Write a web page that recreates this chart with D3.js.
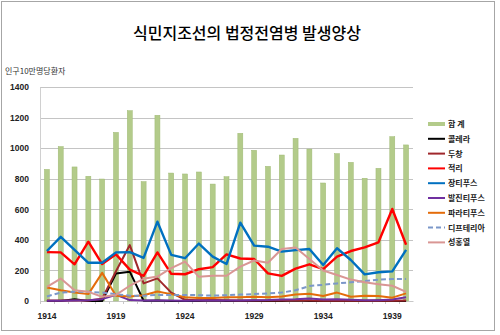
<!DOCTYPE html>
<html>
<head>
<meta charset="utf-8">
<script src="https://cdn.jsdelivr.net/npm/d3@7/dist/d3.min.js"></script>
<style>
  html, body { margin: 0; padding: 0; background: #fff; }
  svg { display: block; }
</style>
</head>
<body>
<svg id="chart" width="500" height="335"></svg>
<script>
// Years on the category axis
const years = [1914,1915,1916,1917,1918,1919,1920,1921,1922,1923,1924,1925,1926,1927,
               1928,1929,1930,1931,1932,1933,1934,1935,1936,1937,1938,1939,1940];
const yearLabels = [1914,1919,1924,1929,1934,1939];
const yTicks = [0,200,400,600,800,1000,1200,1400];

// Patients per 100,000 population
const total      = [861,1010,877,816,798,1103,1245,781,1215,837,831,844,765,813,1097,986,881,955,1064,994,772,964,907,803,868,1075,1021];
const cholera    = [0,0,12,0,0,180,192,2,4,0,0,0,3,0,0,1,0,0,4,0,0,0,0,0,1,0,0];
const smallpox   = [3,3,3,4,15,195,366,115,148,55,8,5,6,5,3,4,3,5,4,3,2,2,3,2,3,2,4];
const dysentery  = [320,318,240,388,242,305,205,165,318,178,175,208,222,305,278,275,181,164,212,240,209,290,327,351,384,602,368];
const typhoid    = [327,420,335,250,250,318,320,282,519,302,280,376,290,242,512,362,355,323,333,340,235,345,268,174,188,194,334];
const typhus     = [2,2,3,5,12,40,6,3,3,3,2,3,3,4,4,5,6,10,12,16,10,12,8,5,5,10,25];
const paratyphoid= [88,70,55,45,184,35,30,38,62,45,25,20,20,25,25,28,25,30,42,48,33,55,28,35,33,22,50];
const diphtheria = [30,55,60,60,55,45,35,35,40,40,40,38,35,38,42,45,50,55,70,98,106,115,122,130,140,144,144];
const scarlet    = [92,147,70,60,28,40,100,145,160,215,258,158,165,165,225,265,250,340,350,275,200,170,140,122,110,100,60];

const seriesNames  = ["콜레라","두창","적리","장티푸스","발진티푸스","파라티푸스","디프테리아","성홍열"];
const seriesValues = [cholera, smallpox, dysentery, typhoid, typhus, paratyphoid, diphtheria, scarlet];
const seriesColors = ["#000000","#a0282c","#ff0000","#0070c0","#7030a0","#e46c0a","#7b97c9","#d99694"];
const seriesWidths = [2,2,2.4,2.4,2,2,2,2];
const seriesDash   = [null,null,null,null,null,null,"5,3",null];

const svg = d3.select("#chart");
const numFont = "'Liberation Sans', Arial, sans-serif";
const krFont = "'Noto Sans CJK KR', 'Noto Sans', sans-serif";

// outer frame
svg.append("rect").attr("x",1.5).attr("y",1.5).attr("width",493).attr("height",329)
  .attr("fill","#fff").attr("stroke","#a6a6a6").attr("stroke-width",1);

const plot = {left:40, right:413, top:87, bottom:301};

const x = d3.scaleBand().domain(years).range([plot.left, plot.right]).paddingInner(0).paddingOuter(0);
const y = d3.scaleLinear().domain([0,1400]).range([plot.bottom, plot.top]);
const cx = d => x(d) + x.bandwidth()/2;

// title
svg.append("text").attr("x",247).attr("y",39).attr("text-anchor","middle")
  .attr("font-family",krFont).attr("font-size",16).attr("font-weight",500).attr("fill","#000")
  .text("식민지조선의 법정전염병 발생양상");

// y axis title
svg.append("text").attr("x",5).attr("y",74)
  .attr("font-family",krFont).attr("font-size",8).attr("fill","#333")
  .text("인구10만명당환자");

// gridlines
svg.append("g").selectAll("line").data(yTicks.filter(t => t > 0)).join("line")
  .attr("x1",plot.left).attr("x2",plot.right)
  .attr("y1",d => Math.round(y(d))+0.5).attr("y2",d => Math.round(y(d))+0.5)
  .attr("stroke","#c4c4c4").attr("stroke-width",1);

// y axis
const yAxis = d3.axisLeft(y).tickValues(yTicks).tickSize(0).tickPadding(11).tickFormat(d3.format("d"));
const gy = svg.append("g").attr("transform",`translate(${plot.left},0)`).call(yAxis);
gy.select(".domain").attr("stroke","#d0d0d0");
gy.selectAll("text").attr("font-family",numFont).attr("font-size",8.5)
  .attr("font-weight","bold").attr("fill","#222");

// x axis
const xAxis = d3.axisBottom(x).tickValues(yearLabels).tickSize(0).tickPadding(12).tickFormat(d3.format("d"));
const gx = svg.append("g").attr("transform",`translate(0,${plot.bottom})`).call(xAxis);
gx.select(".domain").attr("stroke","#c8c8c8");
gx.selectAll("text").attr("font-family",numFont).attr("font-size",8.5)
  .attr("font-weight","bold").attr("fill","#222");
// category tick marks
svg.append("g").selectAll("line").data(years).join("line")
  .attr("x1",d => Math.round(x(d))+0.5).attr("x2",d => Math.round(x(d))+0.5)
  .attr("y1",plot.bottom).attr("y2",plot.bottom+3)
  .attr("stroke","#c8c8c8");

// total bars
const barW = 5;
svg.append("g").selectAll("rect").data(years).join("rect")
  .attr("x",(d) => cx(d) - barW/2)
  .attr("y",(d,i) => y(total[i]))
  .attr("width",barW)
  .attr("height",(d,i) => y(0) - y(total[i]))
  .attr("fill","#b3cb8a").attr("stroke","#9fba74").attr("stroke-width",0.5);

// disease lines
const line = d3.line().x((d,i) => cx(years[i])).y(d => y(d));
seriesValues.forEach((vals,k) => {
  svg.append("path").datum(vals)
    .attr("d",line)
    .attr("fill","none")
    .attr("stroke",seriesColors[k])
    .attr("stroke-width",seriesWidths[k])
    .attr("stroke-linejoin","round")
    .attr("stroke-dasharray",seriesDash[k]);
});

// legend
const lg = svg.append("g").attr("transform","translate(428,124)");
const step = 14.8;
lg.append("rect").attr("x",0).attr("y",-2).attr("width",17).attr("height",4).attr("fill","#b3cb8a");
lg.append("text").attr("x",20).attr("y",3).attr("font-family",krFont).attr("font-size",8)
  .attr("font-weight","bold").attr("fill","#222").text("합 계");
seriesNames.forEach((name,k) => {
  const yy = (k+1)*step;
  lg.append("line").attr("x1",0).attr("x2",17).attr("y1",yy).attr("y2",yy)
    .attr("stroke",seriesColors[k]).attr("stroke-width",2)
    .attr("stroke-dasharray",seriesDash[k]);
  lg.append("text").attr("x",20).attr("y",yy+3).attr("font-family",krFont).attr("font-size",8)
    .attr("font-weight","bold").attr("fill","#222").text(name);
});
</script>
</body>
</html>
